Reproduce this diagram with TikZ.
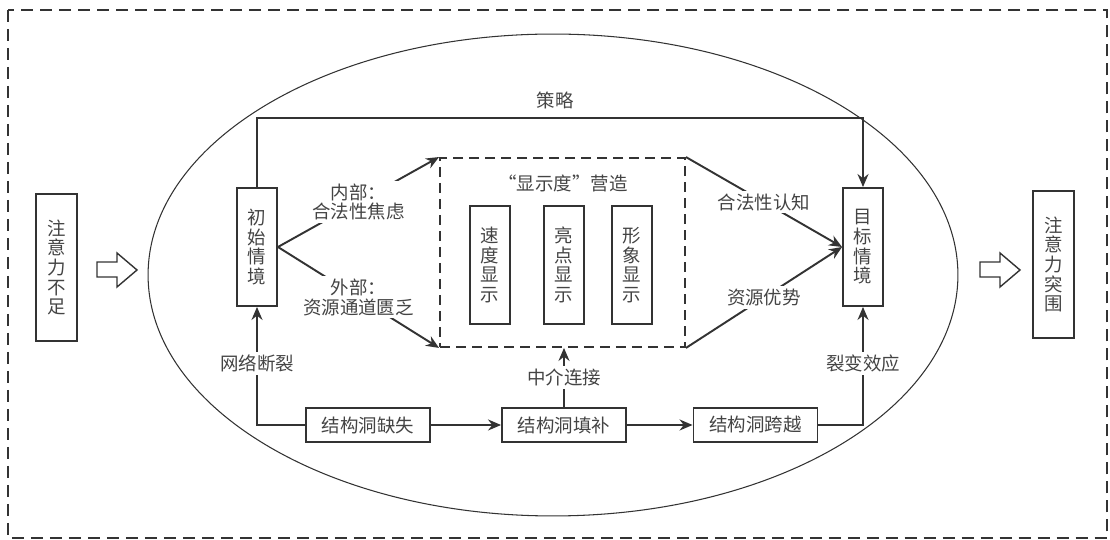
\documentclass[tikz,border=0pt]{standalone}
\usepackage{fontspec}
\setmainfont{Noto Sans CJK SC}
\usetikzlibrary{arrows.meta}
\definecolor{ink}{HTML}{333333}
\definecolor{txt}{HTML}{444444}
\newcommand{\cnfont}{\fontsize{10.5}{11.2}\selectfont}
\tikzstyle{vbox} = [
    rectangle,
    draw=ink,
    line width=1.1pt,
    minimum width=0.8cm,
    minimum height=2.36cm,
    inner sep=0pt,
    align=center,
    text=txt,
    font=\cnfont
]
\tikzstyle{tallbox} = [
    vbox,
    minimum width=0.82cm,
    minimum height=2.94cm
]
\tikzstyle{hbox} = [
    rectangle,
    draw=ink,
    line width=1.1pt,
    minimum width=2.48cm,
    minimum height=0.68cm,
    inner sep=0pt,
    text=txt,
    font=\cnfont
]
\tikzstyle{dashbox} = [
    rectangle,
    draw=ink,
    line width=1.1pt,
    dash pattern=on 0.2cm off 0.12cm,
    minimum width=4.9cm,
    minimum height=3.78cm
]
\tikzstyle{lbl} = [fill=white, inner sep=1.5pt, align=center, text=txt, font=\cnfont]
\tikzstyle{arrow} = [draw=ink, line width=1.1pt, -{Stealth[length=2.6mm,width=2.2mm]}]
\tikzstyle{line} = [draw=ink, line width=1.1pt]
\tikzstyle{hollow} = [draw=ink, line width=0.8pt, line join=miter]
\begin{document}
\begin{tikzpicture}[x=0.02cm, y=-0.02cm]
\useasboundingbox (0,0) rectangle (1110,540);

% frame and ellipse
\draw [line, dash pattern=on 0.24cm off 0.14cm] (8,10) rectangle (1107,538);
\draw [draw=ink, line width=0.6pt] (553,275) ellipse [x radius=8.1cm, y radius=4.82cm];

% outer states
\node (lack) [tallbox] at (56.5,267.5) {注\\意\\力\\不\\足};
\node (burst) [tallbox] at (1053.5,264.5) {注\\意\\力\\突\\围};
\draw [hollow] (97,262) -- (117,262) -- (117,253) -- (137,270) -- (117,287) -- (117,277) -- (97,277) -- cycle;
\draw [hollow] (980,262) -- (1000,262) -- (1000,253) -- (1020,270) -- (1000,287) -- (1000,277) -- (980,277) -- cycle;

% situations
\node (init) [vbox] at (257,247) {初\\始\\情\\境};
\node (goal) [vbox] at (863,247) {目\\标\\情\\境};

% visibility
\node (display) [dashbox] at (562.5,252.5) {};
\node (title) [lbl, fill=none] at (563,183) {“显示度”营造};
\node (speed) [vbox] at (490,265) {速\\度\\显\\示};
\node (bright) [vbox] at (564,265) {亮\\点\\显\\示};
\node (form) [vbox] at (632,265) {形\\象\\显\\示};

% structural holes
\node (miss) [hbox] at (368,425) {结构洞缺失};
\node (fill) [hbox] at (564,425) {结构洞填补};
\node (span) [hbox] at (755.5,425) {结构洞跨越};

% strategy
\coordinate (top) at (560,118);
\node (strategy) [lbl, fill=none] at (555,100) {策略};
\draw [arrow] (init.north) |- (top) -| (goal.north);

\draw [arrow] (init.east) -- node[lbl] {内部：\\合法性焦虑} (display.north west);
\draw [arrow] (init.east) -- node[lbl] {外部：\\资源通道匮乏} (display.south west);
\draw [arrow] (display.north east) -- node[lbl] {合法性认知} (goal.west);
\draw [arrow] (display.south east) -- node[lbl] {资源优势} (goal.west);

\draw [arrow] (miss.west) -| node[lbl, pos=0.76] {网络断裂} (init.south);
\draw [arrow] (miss) -- (fill);
\draw [arrow] (fill) -- (span);
\draw [arrow] (fill.north) -- node[lbl] {中介连接} (fill.north |- display.south);
\draw [arrow] (span.east) -| node[lbl, pos=0.76] {裂变效应} (goal.south);

\end{tikzpicture}
\end{document}
